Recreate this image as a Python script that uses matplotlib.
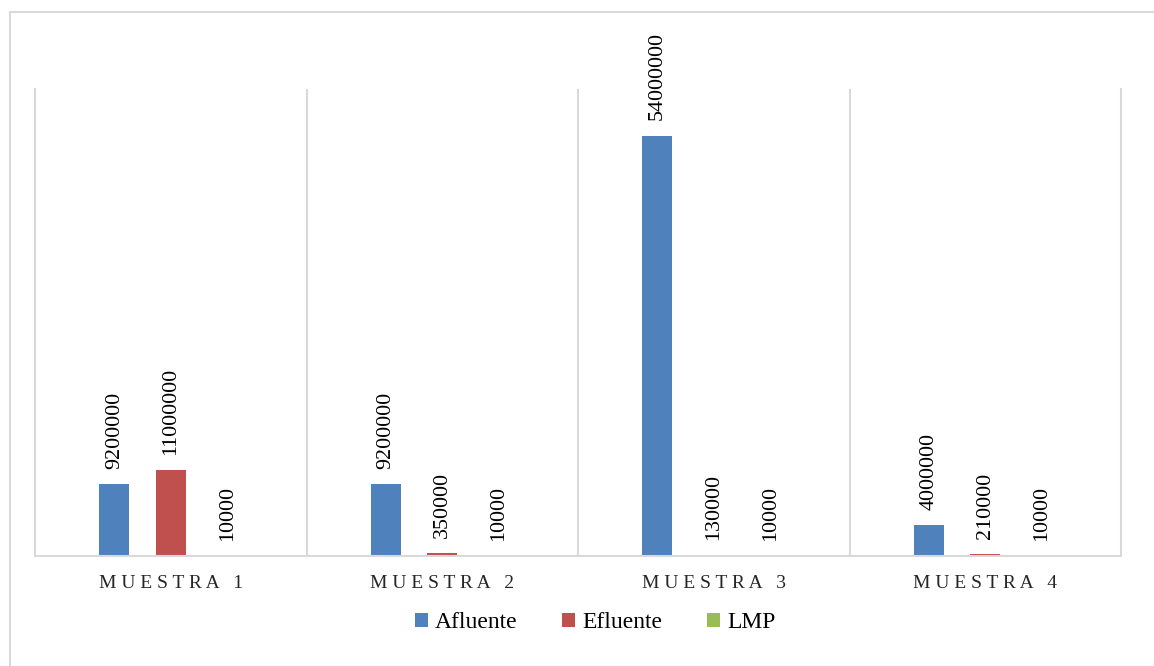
import numpy as np
import matplotlib
matplotlib.use("Agg")
import matplotlib.pyplot as plt
from matplotlib.patches import Rectangle

plt.rcParams['font.family'] = ['Liberation Serif', 'DejaVu Serif']

# data
categories = ["MUESTRA 1", "MUESTRA 2", "MUESTRA 3", "MUESTRA 4"]
series_names = ["Afluente", "Efluente", "LMP"]
afluente = [9200000, 9200000, 54000000, 4000000]
efluente = [11000000, 350000, 130000, 210000]
lmp      = [10000, 10000, 10000, 10000]
colors = ["#4F81BD", "#C0504D", "#9BBB59"]

W, H = 1154, 666
fig = plt.figure(figsize=(W / 100, H / 100), dpi=100)

# outer chart border (only top and left visible in the crop)
fig.patches.append(Rectangle((10 / W, -0.1), 1.2, (H - 12) / H + 0.1,
                             transform=fig.transFigure, fill=False,
                             edgecolor="#D9D9D9", lw=1.5))

ax = fig.add_axes([35 / W, (H - 556) / H, (1121 - 35) / W, (556 - 89) / H])

x = np.arange(len(categories))
offsets = [-0.208, 0.0, 0.208]
width = 0.11
for vals, name, col, off in zip([afluente, efluente, lmp], series_names, colors, offsets):
    ax.bar(x + off, vals, width, color=col, label=name)
    for xi, v in zip(x + off, vals):
        ax.annotate(str(v), (xi, v), xytext=(0, 11), textcoords="offset points",
                    rotation=90, ha="center", va="bottom", fontsize=15.8, color="black")

ax.set_xlim(-0.5, 3.5)
ax.set_ylim(0, 60000000)
ax.set_yticks([])
for b in [0.5, 1.5, 2.5]:
    ax.axvline(b, color="#D9D9D9", lw=1.5)
for s in ["left", "right", "bottom"]:
    ax.spines[s].set_color("#D9D9D9")
    ax.spines[s].set_linewidth(1.5)
ax.spines["top"].set_visible(False)

spaced = [" ".join(c.replace(" ", "")[:-1]) + "   " + c[-1] for c in categories]
ax.set_xticks(x)
ax.set_xticklabels(spaced, fontsize=14, color="#262626")
ax.tick_params(axis="x", length=0, pad=14)

fig.legend(loc="center", bbox_to_anchor=(595 / W, 1 - 623 / H), ncol=3,
           frameon=False, fontsize=17, handlelength=0.55, handleheight=0.55,
           handletextpad=0.3, columnspacing=1.9)

fig.savefig("out.png", dpi=100)
